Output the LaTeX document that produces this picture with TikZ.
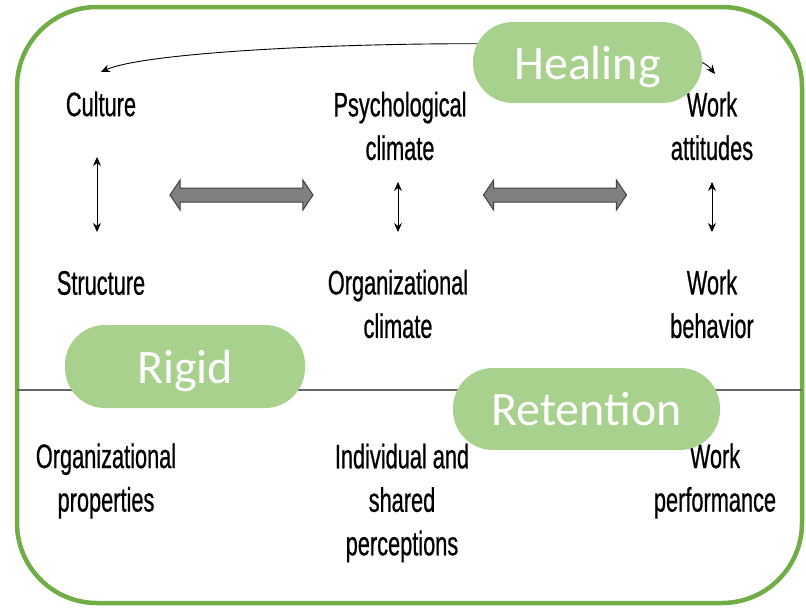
\documentclass[tikz,border=0pt]{standalone}
\usepackage{fontspec}
\setmainfont{Liberation Sans}[FakeStretch=0.64,FakeBold=0.6]
\newfontfamily\pillfont{Carlito}
\usetikzlibrary{shapes.arrows,arrows.meta}
\definecolor{framegreen}{HTML}{70AD47}
\definecolor{pillgreen}{HTML}{A9D18E}
\definecolor{arrowgray}{HTML}{808080}
\definecolor{rulegray}{HTML}{666666}
\tikzset{
  lbl/.style={align=center, inner sep=0pt, font=\fontsize{34}{43.5}\selectfont},
  pill/.style={fill=pillgreen, draw=none, rounded corners=40pt, inner sep=0pt,
    text depth=0pt, text=white, font=\pillfont\fontsize{48}{50}\selectfont},
  bigarrow/.style={double arrow, draw=black!75, fill=arrowgray, line width=1pt,
    inner xsep=0pt, inner ysep=6.5pt, minimum height=143pt,
    double arrow head extend=8pt, double arrow tip angle=112},
  thin/.style={{Stealth[length=9pt,width=8pt]}-{Stealth[length=9pt,width=8pt]}, line width=0.9pt},
}
\begin{document}
\begin{tikzpicture}[x=1pt,y=-1pt]
\useasboundingbox (0,0) rectangle (806,608);
% outer frame
\draw[framegreen, line width=4.5pt, rounded corners=80pt] (17,7) rectangle (802,603);
% divider between the upper model and the outcome labels
\draw[rulegray, line width=2.2pt] (17,390) -- (802,390);

% upper row labels
\node[lbl] (culture) at (101,104) {Culture};
\node[lbl] (structure) at (101,283) {Structure};
\node[lbl] (psych) at (400,126) {Psychological\\climate};
\node[lbl] (orgclim) at (398,304) {Organizational\\climate};
\node[lbl] (attitudes) at (712,126) {Work\\attitudes};
\node[lbl] (behavior) at (712,304) {Work\\behavior};

% bottom labels
\node[lbl] (orgprop) at (106,481) {Organizational\\properties};
\node[lbl] (indiv) at (402,503) {Individual and\\shared\\perceptions};
\node[lbl] (perf) at (715,481) {Work\\performance};

% vertical links
\coordinate (c1) at (97,157); \coordinate (c2) at (97,232);
\coordinate (p1) at (398,182); \coordinate (p2) at (398,232);
\coordinate (w1) at (712,182); \coordinate (w2) at (712,232);
\draw[thin] (c1) -- (c2);
\draw[thin] (p1) -- (p2);
\draw[thin] (w1) -- (w2);

% broad horizontal links
\node[bigarrow] (ha1) at (241.5,195) {};
\node[bigarrow] (ha2) at (555,195) {};

% curved link across the top
\coordinate (ctop) at (101,72);
\coordinate (wtop) at (715,74);
\draw[thin] (ctop) .. controls (150,50) and (400,40) .. (560,45)
  .. controls (660,50) and (700,55) .. (wtop);

% green tags
\node[pill, minimum width=229pt, minimum height=81pt] (healing) at (587.5,62.5) {Healing};
\node[pill, minimum width=240pt, minimum height=83pt] (rigid) at (185,366.5) {Rigid};
\node[pill, minimum width=267pt, minimum height=82pt] (retention) at (586.5,409) {Retention};
\end{tikzpicture}
\end{document}
